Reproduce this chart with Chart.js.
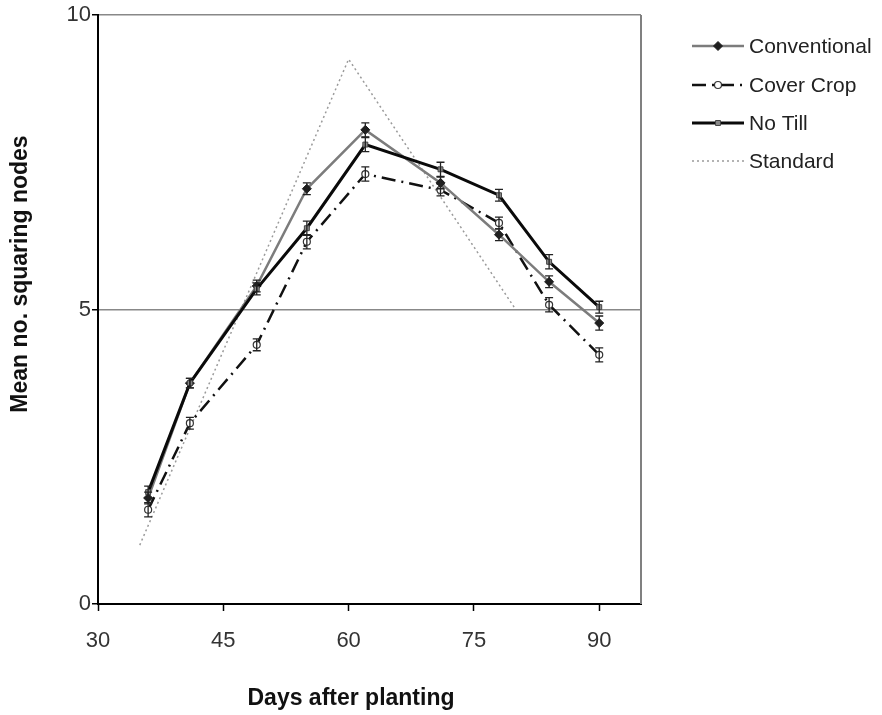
<!DOCTYPE html>
<html>
<head>
<meta charset="utf-8">
<script src="https://cdn.jsdelivr.net/npm/chart.js@4/dist/chart.umd.min.js"></script>
<style>
  html, body { margin: 0; padding: 0; background: #fff; }
  #wrap { width: 882px; height: 715px; position: relative; }
</style>
</head>
<body>
<div id="wrap"><canvas id="chart"></canvas></div>
<script>
// sampling days
const days = [36, 41, 49, 55, 62, 71, 78, 84, 90];

// mean squaring nodes per treatment
const conventional = [1.80, 3.75, 5.40, 7.05, 8.05, 7.15, 6.27, 5.47, 4.77];
const coverCrop    = [1.60, 3.07, 4.40, 6.15, 7.30, 7.03, 6.47, 5.08, 4.23];
const noTill       = [1.90, 3.75, 5.35, 6.38, 7.80, 7.38, 6.94, 5.81, 5.04];

// standard errors
const conventionalErr = [0.10, 0.08, 0.10, 0.10, 0.12, 0.10, 0.10, 0.10, 0.12];
const coverCropErr    = [0.12, 0.10, 0.10, 0.12, 0.12, 0.10, 0.10, 0.12, 0.12];
const noTillErr       = [0.10, 0.08, 0.10, 0.12, 0.12, 0.12, 0.10, 0.12, 0.10];

// reference curve
const standardDays   = [35, 60, 80];
const standardValues = [1, 9.25, 5];

const xTicks = [30, 45, 60, 75, 90];
const yTicks = [0, 5, 10];

const pts = (xs, ys) => xs.map((d, i) => ({ x: d, y: ys[i] }));

const data = {
    datasets: [
        {
            label: 'Conventional',
            data: pts(days, conventional),
            errors: conventionalErr,
            borderColor: '#7c7c7c',
            borderWidth: 2.5,
            pointStyle: 'rectRot',
            pointRadius: 4.5,
            pointBackgroundColor: '#1e1e1e',
            pointBorderColor: '#1e1e1e',
            pointBorderWidth: 1,
            order: 1
        },
        {
            label: 'Cover Crop',
            data: pts(days, coverCrop),
            errors: coverCropErr,
            borderColor: '#111',
            borderWidth: 2.5,
            borderDash: [14, 6, 2, 6],
            pointStyle: 'circle',
            pointRadius: 3.5,
            pointBackgroundColor: '#fff',
            pointBorderColor: '#333',
            pointBorderWidth: 1.2,
            order: 2
        },
        {
            label: 'No Till',
            data: pts(days, noTill),
            errors: noTillErr,
            borderColor: '#0a0a0a',
            borderWidth: 3,
            pointStyle: 'rect',
            pointRadius: 3.5,
            pointBackgroundColor: '#8a8a8a',
            pointBorderColor: '#444',
            pointBorderWidth: 1,
            order: 0
        },
        {
            label: 'Standard',
            data: pts(standardDays, standardValues),
            borderColor: '#9a9a9a',
            borderWidth: 1.5,
            borderDash: [2, 3],
            pointRadius: 0,
            order: 3
        }
    ]
};

// gray frame on the right side of the plot
const frame = {
    id: 'frame',
    beforeDatasetsDraw(chart) {
        const { ctx, chartArea: { top, bottom, right } } = chart;
        ctx.save();
        ctx.strokeStyle = '#808080';
        ctx.lineWidth = 2;
        ctx.beginPath();
        ctx.moveTo(right, top);
        ctx.lineTo(right, bottom);
        ctx.stroke();
        ctx.restore();
    }
};

// vertical error bars with caps
const errorBars = {
    id: 'errorBars',
    afterDatasetsDraw(chart) {
        const { ctx, scales: { y } } = chart;
        ctx.save();
        ctx.strokeStyle = '#222';
        ctx.lineWidth = 1.3;
        chart.data.datasets.forEach((ds, i) => {
            if (!ds.errors) return;
            const meta = chart.getDatasetMeta(i);
            meta.data.forEach((el, j) => {
                const v = ds.data[j].y;
                const e = ds.errors[j];
                const y1 = y.getPixelForValue(v + e);
                const y2 = y.getPixelForValue(v - e);
                ctx.beginPath();
                ctx.moveTo(el.x, y1);
                ctx.lineTo(el.x, y2);
                ctx.moveTo(el.x - 4, y1);
                ctx.lineTo(el.x + 4, y1);
                ctx.moveTo(el.x - 4, y2);
                ctx.lineTo(el.x + 4, y2);
                ctx.stroke();
            });
        });
        ctx.restore();
    }
};

// legend on the right, line samples with their markers
const sideLegend = {
    id: 'sideLegend',
    afterDraw(chart) {
        const { ctx } = chart;
        const x0 = 692, x1 = 744, tx = 749;
        const rows = [46, 85, 123, 161];
        ctx.save();
        chart.data.datasets.forEach((ds, i) => {
            const yy = rows[i];
            ctx.beginPath();
            ctx.strokeStyle = ds.borderColor;
            ctx.lineWidth = ds.borderWidth;
            ctx.setLineDash(ds.borderDash || []);
            ctx.moveTo(x0, yy);
            ctx.lineTo(x1, yy);
            ctx.stroke();
            ctx.setLineDash([]);
            if (ds.pointRadius) {
                ctx.fillStyle = ds.pointBackgroundColor;
                ctx.strokeStyle = ds.pointBorderColor;
                ctx.lineWidth = ds.pointBorderWidth;
                Chart.helpers.drawPoint(ctx, {
                    pointStyle: ds.pointStyle,
                    radius: ds.pointRadius,
                    rotation: 0,
                    borderWidth: ds.pointBorderWidth
                }, (x0 + x1) / 2, yy);
            }
            ctx.fillStyle = '#222';
            ctx.font = '21px "Liberation Sans", Arial, sans-serif';
            ctx.textAlign = 'left';
            ctx.textBaseline = 'middle';
            ctx.fillText(ds.label, tx, yy + 1);
        });
        ctx.restore();
    }
};

// axis titles
const axisTitles = {
    id: 'axisTitles',
    afterDraw(chart) {
        const { ctx } = chart;
        ctx.save();
        ctx.fillStyle = '#111';
        ctx.font = 'bold 23px "Liberation Sans", Arial, sans-serif';
        ctx.textAlign = 'center';
        ctx.textBaseline = 'middle';
        ctx.fillText('Days after planting', 351, 699);
        ctx.translate(21, 274);
        ctx.rotate(-Math.PI / 2);
        ctx.fillText('Mean no. squaring nodes', 0, 0);
        ctx.restore();
    }
};

const tickFont = { family: '"Liberation Sans", Arial, sans-serif', size: 22 };

const config = {
    type: 'line',
    data,
    options: {
        responsive: true,
        maintainAspectRatio: false,
        animation: false,
        layout: { padding: { top: 15, right: 241, left: 0, bottom: 0 } },
        plugins: { legend: { display: false }, tooltip: { enabled: false } },
        scales: {
            x: {
                type: 'linear',
                min: 30,
                max: 95,
                afterBuildTicks: (s) => { s.ticks = xTicks.map(v => ({ value: v })); },
                afterFit: (s) => { s.height = 111; },
                border: { color: '#000', width: 2 },
                grid: { drawOnChartArea: false, color: '#000', tickLength: 7, tickWidth: 1.5 },
                ticks: { font: tickFont, color: '#333', padding: 17, maxRotation: 0 }
            },
            y: {
                min: 0,
                max: 10,
                afterBuildTicks: (s) => { s.ticks = yTicks.map(v => ({ value: v })); },
                afterFit: (s) => { s.width = 98; },
                border: { color: '#000', width: 2 },
                grid: { color: '#888', lineWidth: 1.5, tickColor: '#000', tickLength: 6 },
                ticks: { font: tickFont, color: '#333', padding: 1 }
            }
        }
    },
    plugins: [frame, errorBars, sideLegend, axisTitles]
};

new Chart(document.getElementById('chart'), config);
</script>
</body>
</html>
